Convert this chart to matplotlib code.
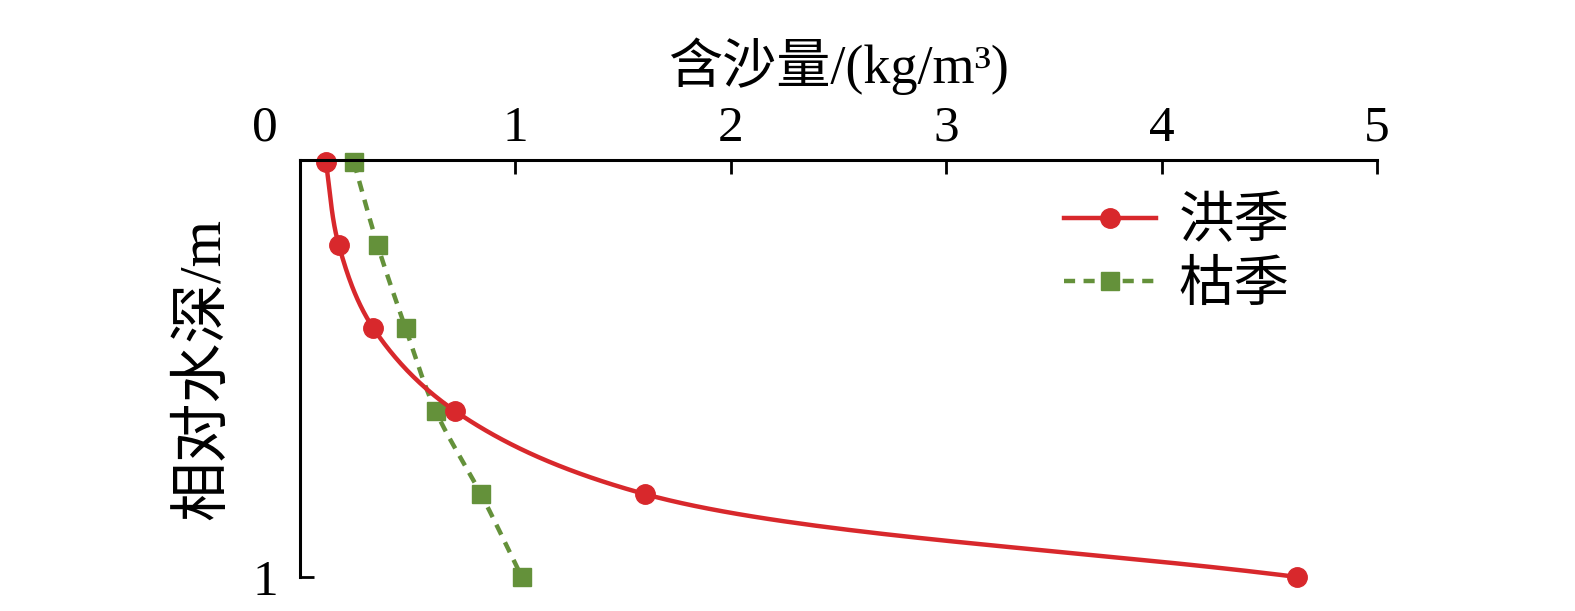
import numpy as np
import matplotlib.pyplot as plt

plt.rcParams['font.family'] = ['Liberation Serif', 'Noto Sans CJK SC']

# 相对水深 (0 = 水面, 1 = 河底)
depth = [0.0, 0.2, 0.4, 0.6, 0.8, 1.0]
# 含沙量 kg/m3
flood = [0.12, 0.18, 0.34, 0.72, 1.60, 4.63]
dry = [0.25, 0.36, 0.49, 0.63, 0.84, 1.03]

x_ticks = [1, 2, 3, 4, 5]
red = '#d8282c'
green = '#64913a'


# 平滑曲线 (centripetal Catmull-Rom, 按屏幕比例计算)
def smooth(xs, ys, sx=215.0, sy=415.0, n=40):
    p = np.column_stack([np.array(xs) * sx, np.array(ys) * sy])
    p = np.vstack([2 * p[0] - p[1], p, 2 * p[-1] - p[-2]])
    out = []
    for i in range(1, len(p) - 2):
        p0, p1, p2, p3 = p[i - 1], p[i], p[i + 1], p[i + 2]
        t0 = 0.0
        t1 = t0 + np.linalg.norm(p1 - p0) ** 0.5
        t2 = t1 + np.linalg.norm(p2 - p1) ** 0.5
        t3 = t2 + np.linalg.norm(p3 - p2) ** 0.5
        t = np.linspace(t1, t2, n)[:, None]
        a1 = (t1 - t) / (t1 - t0) * p0 + (t - t0) / (t1 - t0) * p1
        a2 = (t2 - t) / (t2 - t1) * p1 + (t - t1) / (t2 - t1) * p2
        a3 = (t3 - t) / (t3 - t2) * p2 + (t - t2) / (t3 - t2) * p3
        b1 = (t2 - t) / (t2 - t0) * a1 + (t - t0) / (t2 - t0) * a2
        b2 = (t3 - t) / (t3 - t1) * a2 + (t - t1) / (t3 - t1) * a3
        out.append((t2 - t) / (t2 - t1) * b1 + (t - t1) / (t2 - t1) * b2)
    out = np.vstack(out)
    return out[:, 0] / sx, out[:, 1] / sy


fig = plt.figure(figsize=(15.75, 6.11), dpi=100)
ax = fig.add_axes([300 / 1575, 1 - 577 / 611, 1077 / 1575, 417 / 611])

dash = (0, (2.5, 1.9))
cx, cy = smooth(dry, depth)
ax.plot(cx, cy, color=green, lw=3.2, ls=dash, clip_on=False)
ax.plot(dry, depth, 's', color=green, ms=13.5, clip_on=False)
cx, cy = smooth(flood, depth)
ax.plot(cx, cy, color=red, lw=3.2, clip_on=False)
ax.plot(flood, depth, 'o', color=red, ms=14, clip_on=False)

# 图例
h1, = ax.plot([], [], '-o', color=red, lw=3.2, ms=14)
h2, = ax.plot([], [], color=green, lw=3.2, ls=dash, marker='s', ms=13.5)
ax.legend([h1, h2], ['洪季', '枯季'], loc='upper right', bbox_to_anchor=(0.965, 1.03),
          frameon=False, fontsize=40, handlelength=1.65, handletextpad=0.4,
          labelspacing=0.2)

ax.set_xlim(0, 5)
ax.set_ylim(1.0, -0.005)
ax.xaxis.tick_top()
ax.xaxis.set_label_position('top')
ax.set_xticks(x_ticks)
ax.set_xticklabels([str(v) for v in x_ticks])
ax.set_yticks([1])
ax.set_yticklabels(['1'])
ax.tick_params(axis='x', direction='in', length=10, width=2, labelsize=37, pad=6)
ax.tick_params(axis='y', direction='in', length=10, width=2, labelsize=37, pad=16)
ax.spines['bottom'].set_visible(False)
ax.spines['right'].set_visible(False)
ax.spines['top'].set_linewidth(2.2)
ax.spines['left'].set_linewidth(2.2)

ax.set_xlabel('含沙量/(kg/m³)', fontsize=39, labelpad=16)
ax.set_ylabel('相对水深/m', fontsize=43, labelpad=14)
fig.text(265 / 1575, 1 - 128 / 611, '0', fontsize=37, ha='center', va='center')

fig.savefig('out.png', dpi=100)
